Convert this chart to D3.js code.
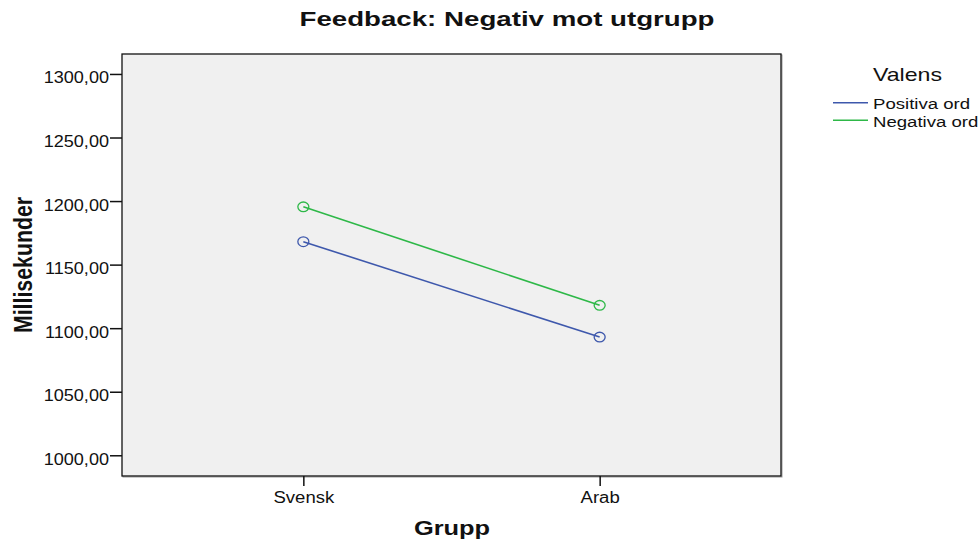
<!DOCTYPE html>
<html><head><meta charset="utf-8">
<script src="https://cdn.jsdelivr.net/npm/d3@7"></script>
<style>body{margin:0;background:#fff}svg{display:block}text{font-family:Arial,"Liberation Sans",sans-serif}</style>
</head><body><svg id="c" width="980" height="543"></svg>
<script>
const categories = ["Svensk", "Arab"];
const seriesNames = ["Positiva ord", "Negativa ord"];
const positiva = [1168, 1093];
const negativa = [1195.5, 1118];
const yTicks = [1000, 1050, 1100, 1150, 1200, 1250, 1300];
const colors = ["#3e58ac", "#2eb848"];

const svg = d3.select("#c");
const FONT = "Arial, Liberation Sans, sans-serif";
const m = {l:122, t:54, r:781, b:476};
const x = d3.scalePoint().domain(categories).range([m.l, m.r]).padding(0.612);
const y = d3.scaleLinear().domain([983.7, 1315.7]).range([m.b, m.t]);

// helper: stretched text anchored at (px,py)
function sText(px, py, str, size, sx, anchor, bold) {
  return svg.append("text").attr("transform", `translate(${px},${py}) scale(${sx},1)`)
    .attr("text-anchor", anchor).attr("font-size", size).attr("font-family", FONT)
    .attr("font-weight", bold ? "bold" : "normal").attr("fill", "#111").text(str);
}

svg.append("rect").attr("x", m.l+1).attr("y", m.t+1).attr("width", m.r-m.l).attr("height", m.b-m.t)
  .attr("fill", "none").attr("stroke", "#999").attr("stroke-width", 1);
svg.append("rect").attr("x", m.l).attr("y", m.t).attr("width", m.r-m.l).attr("height", m.b-m.t)
  .attr("fill", "#f0f0f0").attr("stroke", "#111").attr("stroke-width", 1.3);

const fmt = d => d3.format(".2f")(d).replace(".", ",");
const yAxis = svg.append("g").attr("transform", `translate(${m.l},0)`)
  .call(d3.axisLeft(y).tickValues(yTicks).tickSize(12).tickFormat(fmt));
yAxis.select(".domain").remove();
yAxis.selectAll("line").attr("stroke", "#111").attr("stroke-width", 1.5);
yAxis.selectAll("text").remove();
yAxis.selectAll(".tick").append("text")
  .attr("transform", "translate(-13,9) scale(1.13,1)")
  .attr("text-anchor", "end").attr("font-size", 16).attr("font-family", FONT).attr("fill", "#111")
  .text(d => fmt(d));

const xAxis = svg.append("g").attr("transform", `translate(0,${m.b})`)
  .call(d3.axisBottom(x).tickSize(10));
xAxis.select(".domain").remove();
xAxis.selectAll("line").attr("stroke", "#111").attr("stroke-width", 1.5);
xAxis.selectAll("text").remove();
xAxis.selectAll(".tick").append("text")
  .attr("transform", "translate(0,27) scale(1.16,1)")
  .attr("text-anchor", "middle").attr("font-size", 16).attr("font-family", FONT).attr("fill", "#111")
  .text(d => d);

const series = [positiva, negativa];
series.forEach((vals, i) => {
  const pts = categories.map((c, j) => [x(c), y(vals[j])]);
  svg.append("path").attr("d", d3.line()(pts)).attr("fill", "none").attr("stroke", colors[i]).attr("stroke-width", 1.6);
  svg.selectAll(null).data(pts).enter().append("ellipse")
    .attr("cx", d => d[0]).attr("cy", d => d[1]).attr("rx", 5.5).attr("ry", 4.8)
    .attr("fill", "none").attr("stroke", colors[i]).attr("stroke-width", 1.3);
});

sText(507, 26, "Feedback: Negativ mot utgrupp", 20.5, 1.35, "middle", true);
sText(452, 535, "Grupp", 20, 1.27, "middle", true);
svg.append("text").attr("transform", "translate(32,265) rotate(-90) scale(1,1.2)").attr("text-anchor", "middle")
  .attr("font-size", 21.3).attr("font-weight", "bold").attr("font-family", FONT).attr("fill", "#111").text("Millisekunder");

sText(873, 80.7, "Valens", 18.5, 1.25, "start", false);
seriesNames.forEach((n, i) => {
  const yy = 102.7 + i*17.5;
  svg.append("line").attr("x1", 833).attr("x2", 868).attr("y1", yy).attr("y2", yy).attr("stroke", colors[i]).attr("stroke-width", 1.6);
  sText(873, yy+6.5, n, 15, 1.24, "start", false);
});
</script></body></html>
